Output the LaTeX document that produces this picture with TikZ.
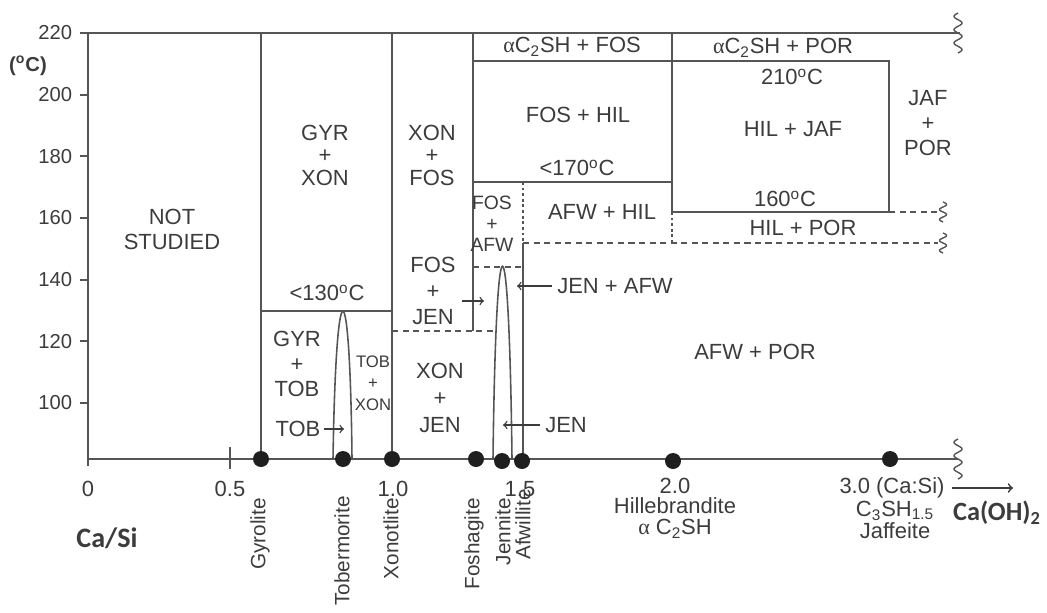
\documentclass[tikz,border=0pt]{standalone}
\usepackage{fontspec}
\setmainfont{Liberation Sans}
\newfontfamily\calfont{Carlito}
\newfontfamily\grfont{Liberation Serif}
\definecolor{linegray}{HTML}{555555}
\definecolor{txtgray}{HTML}{3c3c3c}
\newcommand{\dC}{\textsuperscript{o}C}
\newcommand{\aCS}{{\grfont α}C\textsubscript{2}SH}
\begin{document}
\begin{tikzpicture}[x=0.02cm,y=-0.02cm,
    bnd/.style={line width=1.1pt,draw=linegray},
    dsh/.style={bnd,dash pattern=on 3.5pt off 2.5pt},
    dtt/.style={bnd,line width=0.9pt,dash pattern=on 1.6pt off 1.6pt},
    lbl/.style={text=txtgray,inner sep=0pt,align=center,font=\fontsize{12.5}{14.2}\selectfont},
    axl/.style={lbl,font=\fontsize{11.5}{13}\selectfont},
    mineral/.style={lbl,rotate=90,anchor=east,font=\fontsize{11.8}{13}\selectfont},
    dot/.style={circle,fill=black!88,inner sep=0pt,minimum size=0.32cm},
    ptr/.style={->,line width=0.8pt,draw=txtgray},
    wave/.style={line width=0.8pt,draw=linegray,smooth,samples=50,variable=\t}]
  \useasboundingbox (0,0) rectangle (1047,612);
  % axes
  \draw[bnd] (88,33) -- (960,33);
  \draw[bnd] (88,459) -- (958,459);
  \draw[bnd] (88,33) -- (88,466);
  \draw[bnd] (230,447) -- (230,469);
  \foreach \T in {100,120,...,220}
    \draw[bnd] (80,{33+(220-\T)*3.083}) -- (88,{33+(220-\T)*3.083})
      node[axl,anchor=east] (t\T) at (73,{33+(220-\T)*3.083}) {\T};
  \node[axl,font=\fontsize{11.5}{13}\selectfont\bfseries] (unit) at (28,66) {(\dC)};
  % breaks on the right
  \draw[wave,domain=-20:20] plot ({958+4*sin(27*\t)},{33+\t});
  \draw[wave,domain=-20:20] plot ({958+4*sin(27*\t)},{459+\t});
  \draw[wave,domain=-10:10] plot ({943+3.5*sin(36*\t)},{212+\t});
  \draw[wave,domain=-10:10] plot ({943+3.5*sin(36*\t)},{243+\t});
  % phase boundaries
  \draw[bnd] (261,33) -- (261,459);
  \draw[bnd] (261,311) -- (392,311);
  \draw[bnd] (392,33) -- (392,459);
  \draw[bnd] (473,33) -- (473,331);
  \draw[dsh] (392,331) -- (495,331);
  \draw[bnd] (473,61) -- (889,61) -- (889,212) -- (672,212);
  \draw[bnd] (473,182) -- (672,182);
  \draw[bnd] (672,33) -- (672,212);
  \draw[dsh] (889,212) -- (938,212);
  \draw[dtt] (672,212) -- (672,243);
  \draw[dsh] (523,243) -- (938,243);
  \draw[dtt] (523,182) -- (523,243);
  \draw[bnd] (523,243) -- (523,459);
  \draw[dsh] (473,267) -- (523,267);
  \draw[bnd,line width=0.9pt] (333,459) .. controls (336,262) and (350,262) .. (352,459);
  \draw[bnd,line width=0.9pt] (493,459) .. controls (496,202) and (509,202) .. (512,459);
  % field labels
  \node[lbl] (notst) at (172,229) {NOT\\STUDIED};
  \node[lbl,font=\fontsize{12.5}{12.8}\selectfont] (gyrxon) at (325,155) {GYR\\+\\XON};
  \node[lbl,font=\fontsize{12.5}{12.8}\selectfont] (xonfos) at (432,155) {XON\\+\\FOS};
  \node[lbl] (t130) at (327,293) {<130\dC};
  \node[lbl] (gyrtob) at (297,364) {GYR\\+\\TOB};
  \node[lbl,font=\fontsize{9.5}{12.2}\selectfont] (tobxon) at (373,383) {TOB\\+\\XON};
  \node[lbl,font=\fontsize{12.5}{14.8}\selectfont] (fosjen) at (433,291) {FOS\\+\\JEN};
  \node[lbl,font=\fontsize{12.5}{15.3}\selectfont] (xonjen) at (440,398) {XON\\+\\JEN};
  \node[lbl,font=\fontsize{11}{11.9}\selectfont] (fosafw) at (492,224) {FOS\\+\\AFW};
  \node[lbl] (afosc) at (572,47) {\aCS{} + FOS};
  \node[lbl] (fonhil) at (578,115) {FOS + HIL};
  \node[lbl] (t170) at (577,168) {<170\dC};
  \node[lbl] (afwhil) at (602,212) {AFW + HIL};
  \node[lbl] (aporc) at (783,48) {\aCS{} + POR};
  \node[lbl] (t210) at (792,77) {210\dC};
  \node[lbl] (hiljaf) at (793,129) {HIL + JAF};
  \node[lbl] (t160) at (785,199) {160\dC};
  \node[lbl] (hilpor) at (803,228) {HIL + POR};
  \node[lbl] (jafpor) at (928,123) {JAF\\+\\POR};
  \node[lbl] (afwpor) at (755,352) {AFW + POR};
  % pointers
  \node[lbl] (tobtxt) at (298,429) {TOB};
  \coordinate (tobtip) at (344,429);
  \draw[ptr,shorten <=2pt] (tobtxt.east) -- (tobtip);
  \node[lbl,anchor=west] (jenafw) at (557,286) {JEN + AFW};
  \coordinate (jenafwtip) at (517,286);
  \draw[ptr,shorten <=3pt] (jenafw.west) -- (jenafwtip);
  \node[lbl,anchor=west] (jentxt) at (545,425) {JEN};
  \coordinate (jentip) at (503,425);
  \draw[ptr,shorten <=3pt] (jentxt.west) -- (jentip);
  \coordinate (fjfrom) at (462,301);
  \coordinate (fjto) at (484,301);
  \draw[ptr] (fjfrom) -- (fjto);
  % compositions on the axis
  \node[dot] (gyr) at (261,459) {};
  \node[dot] (tob) at (343,459) {};
  \node[dot] (xon) at (392,459) {};
  \node[dot] (fos) at (476,459) {};
  \node[dot] (jen) at (502,461) {};
  \node[dot] (afw) at (522,461) {};
  \node[dot] (hil) at (673,461) {};
  \node[dot] (jaf) at (890,459) {};
  \node[lbl] (x0) at (88,489) {0};
  \node[lbl] (x05) at (230,489) {0.5};
  \node[lbl] (x10) at (393,489) {1.0};
  \node[lbl] (x15) at (520,489) {1.5};
  \node[mineral] (gyrlbl) at (260,498) {Gyrolite};
  \node[mineral] (toblbl) at (342,496) {Tobermorite};
  \node[mineral] (xonlbl) at (391,498) {Xonotlite};
  \node[mineral] (foslbl) at (474,498) {Foshagite};
  \node[mineral] (jenlbl) at (503,498) {Jennite};
  \node[mineral] (afwlbl) at (523,489) {Afwillite};
  \node[lbl,font=\fontsize{12.5}{11.8}\selectfont] (hillbl) at (675,508) {2.0\\Hillebrandite\\{\grfont α} C\textsubscript{2}SH};
  \node[lbl] (casi) at (892,488) {3.0 (Ca:Si)};
  \node[lbl,font=\fontsize{12.5}{12.4}\selectfont] (jaflbl) at (895,520) {C\textsubscript{3}SH\textsubscript{1.5}\\Jaffeite};
  \coordinate (caohtip) at (1013,488);
  \draw[ptr,line width=1pt,shorten <=4pt] (casi.east) -- (caohtip);
  \node[lbl,font=\fontsize{15}{17}\calfont\bfseries] (caoh) at (997,513) {Ca(OH)\textsubscript{2}};
  \node[lbl,font=\fontsize{16}{18}\calfont\bfseries] (ratio) at (107,538) {Ca/Si};
\end{tikzpicture}
\end{document}
